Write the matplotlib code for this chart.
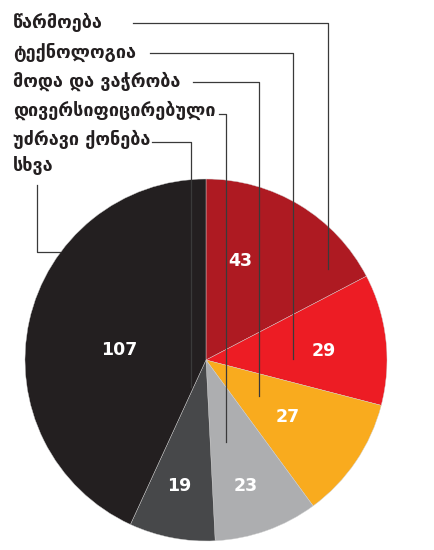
import matplotlib.pyplot as plt
import numpy as np

# data
categories = ["წარმოება", "ტექნოლოგია", "მოდა და ვაჭრობა",
              "დივერსიფიცირებული", "უძრავი ქონება", "სხვა"]
values = [43, 29, 27, 23, 19, 107]
colors = ["#ae1a22", "#ed1c24", "#f9ab1e", "#adaeb0", "#47484a", "#231f20"]

# label placement tweaks (angle offset in deg, radius fraction)
label_off = [12, -2, -1, -2, -1, 6]
label_rad = [0.58, 0.65, 0.55, 0.73, 0.71, 0.48]

W, H = 435, 550
cx, cy, R = 206, 360, 181


def px(x, y):
    # pixel position -> data units (pie radius = 1)
    return (x - cx) / R, (cy - y) / R


fig = plt.figure(figsize=(W / 100, H / 100), dpi=100)
ax = fig.add_axes([0, 0, 1, 1])
ax.axis("off")

wedges, _ = ax.pie(values, colors=colors, startangle=90, counterclock=False,
                   radius=1, wedgeprops=dict(edgecolor="#d0d0d0", linewidth=0.3))
ax.set_xlim(-cx / R, (W - cx) / R)
ax.set_ylim((cy - H) / R, cy / R)
ax.set_aspect("auto")

for w, v, off, r in zip(wedges, values, label_off, label_rad):
    a = np.deg2rad((w.theta1 + w.theta2) / 2 + off)
    ax.text(r * np.cos(a), r * np.sin(a), str(v), color="white",
            fontsize=12.5, fontweight="bold", ha="center", va="center")

# category labels on the left with elbow leader lines
text_y = [22, 52, 81, 110, 139, 166]
leaders = [
    [(133, 23), (328, 23), (328, 269)],
    [(150, 53), (293, 53), (293, 359)],
    [(193, 82), (259, 82), (259, 396)],
    [(219, 114), (226, 114), (226, 442)],
    [(152, 142), (191, 142), (191, 387)],
    [(37, 185), (37, 252), (60, 252)],
]
for name, ty, pts in zip(categories, text_y, leaders):
    x, y = px(13, ty)
    ax.text(x, y, name, color="#231f20", fontsize=13, fontweight="bold",
            ha="left", va="center", family="DejaVu Sans")
    xs, ys = zip(*[px(p, q) for p, q in pts])
    ax.plot(xs, ys, color="#3a3a3a", linewidth=0.9, zorder=5)

fig.savefig("out.png", dpi=100)
